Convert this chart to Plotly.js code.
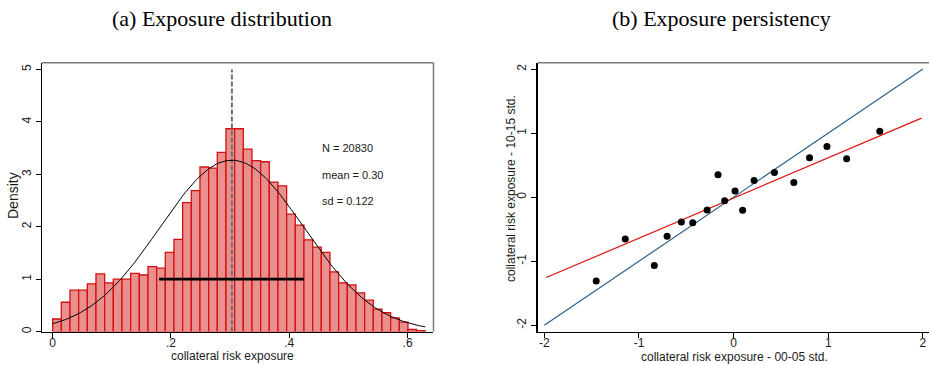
<!DOCTYPE html>
<html>
<head>
<meta charset="utf-8">
<script src="https://cdn.plot.ly/plotly-3.0.1.min.js"></script>
<style>
  html, body { margin: 0; padding: 0; background: #fff; }
  #chart { width: 929px; height: 365px; }
</style>
</head>
<body>
<div id="chart"></div>
<script>
// ---- Panel (a): histogram of collateral risk exposure ----
const binStart = 0;
const binWidth = 0.01465;          // 43 bins over [0, 0.63]
const density = [
  0.24, 0.56, 0.79, 0.79, 0.91, 1.10, 0.93, 1.00, 1.00, 1.11,
  1.08, 1.24, 1.21, 1.51, 1.76, 2.46, 2.69, 3.14, 3.12, 3.42,
  3.87, 3.87, 3.48, 3.26, 3.24, 2.85, 2.78, 2.24, 2.03, 1.75,
  1.61, 1.51, 1.14, 0.93, 0.89, 0.74, 0.60, 0.43, 0.36, 0.26,
  0.18, 0.04, 0.02
];
const obsN = 20830;
const meanExposure = 0.303;
const sdExposure = 0.122;
const rangeLo = 0.18, rangeHi = 0.425;   // horizontal bar drawn at density 1
const xTicksA = [0, 0.2, 0.4, 0.6];
const xTickTextA = ['0', '.2', '.4', '.6'];
const yTicksA = [0, 1, 2, 3, 4, 5];

// ---- Panel (b): binned scatter, 00-05 vs 10-15 (standardised) ----
const exp0005 = [-1.452, -1.145, -0.838, -0.703, -0.552, -0.432, -0.280, -0.165,
                 -0.095, 0.015, 0.095, 0.216, 0.431, 0.636, 0.802, 0.986, 1.194, 1.544];
const exp1015 = [-1.308, -0.652, -1.068, -0.610, -0.390, -0.400, -0.200, 0.348,
                 -0.058, 0.098, -0.203, 0.260, 0.385, 0.229, 0.614, 0.790, 0.598, 1.031];
const diagX = [-2, 2], diagY = [-2, 2];
const fitX = [-1.98, 1.985], fitY = [-1.256, 1.234];
const ticksB = [-2, -1, 0, 1, 2];
const tickTextB = ['-2', '-1', '0', '1', '2'];

// bin centres from bin start and width
const binCentres = density.map((_, i) => binStart + (i + 0.5) * binWidth);

// normal density with the reported mean and sd, over the data support
const curveX = [], curveY = [];
const supportHi = binStart + density.length * binWidth;
for (let k = 0; k <= 200; k++) {
  const x = binStart + (supportHi - binStart) * k / 200;
  const z = (x - meanExposure) / sdExposure;
  curveX.push(x);
  curveY.push(Math.exp(-0.5 * z * z) / (sdExposure * Math.sqrt(2 * Math.PI)));
}

const W = 929, H = 365;
const px = x => x / W;
const py = y => 1 - y / H;

const sans = 'Liberation Sans, Arial, sans-serif';
const serif = 'Liberation Serif, Times New Roman, serif';
const ink = '#1a1a1a';

const traces = [
  {
    type: 'bar', x: binCentres, y: density, width: binWidth,
    marker: { color: '#e98f8e', line: { color: '#d40f0f', width: 1.3 } },
    xaxis: 'x', yaxis: 'y', hoverinfo: 'skip'
  },
  {
    type: 'scatter', mode: 'lines', x: [meanExposure, meanExposure], y: [0, 5],
    line: { color: '#6e6e6e', width: 2, dash: '5px,2px' },
    xaxis: 'x', yaxis: 'y', hoverinfo: 'skip'
  },
  {
    type: 'scatter', mode: 'lines', x: curveX, y: curveY,
    line: { color: '#000', width: 1 },
    xaxis: 'x', yaxis: 'y', hoverinfo: 'skip'
  },
  {
    type: 'scatter', mode: 'lines', x: [rangeLo, rangeHi], y: [1, 1],
    line: { color: '#000', width: 2.7 },
    xaxis: 'x', yaxis: 'y', hoverinfo: 'skip'
  },
  {
    type: 'scatter', mode: 'lines', x: diagX, y: diagY,
    line: { color: '#2e5f8c', width: 1.2 },
    xaxis: 'x2', yaxis: 'y2', hoverinfo: 'skip'
  },
  {
    type: 'scatter', mode: 'lines', x: fitX, y: fitY,
    line: { color: '#e01010', width: 1.2 },
    xaxis: 'x2', yaxis: 'y2', hoverinfo: 'skip'
  },
  {
    type: 'scatter', mode: 'markers', x: exp0005, y: exp1015,
    marker: { color: '#000', size: 7 },
    xaxis: 'x2', yaxis: 'y2', hoverinfo: 'skip'
  }
];

const axisBase = {
  showgrid: false, zeroline: false, showline: true,
  linecolor: '#000', linewidth: 1.5,
  ticks: 'outside', ticklen: 5, tickwidth: 1, tickcolor: '#000',
  tickfont: { family: sans, size: 12, color: ink },
  fixedrange: true
};

const plotTop = 62.7, plotBottom = 331.6;

const layout = {
  width: W, height: H,
  margin: { l: 0, r: 0, t: 0, b: 0 },
  paper_bgcolor: '#fff', plot_bgcolor: '#fff',
  showlegend: false, bargap: 0,
  xaxis: Object.assign({}, axisBase, {
    domain: [px(42), px(433)], anchor: 'y', ticklabelstandoff: -6,
    range: [-0.018, 0.643], tickmode: 'array', tickvals: xTicksA, ticktext: xTickTextA
  }),
  yaxis: Object.assign({}, axisBase, {
    domain: [py(plotBottom), py(plotTop)], anchor: 'x',
    range: [0, 5.13], tickmode: 'array', tickvals: yTicksA, tickangle: -90
  }),
  xaxis2: Object.assign({}, axisBase, {
    domain: [px(537.7), 1], anchor: 'y2', ticklabelstandoff: -6,
    range: [-2.07, 2.064], tickmode: 'array', tickvals: ticksB, ticktext: tickTextB
  }),
  yaxis2: Object.assign({}, axisBase, {
    domain: [py(plotBottom), py(plotTop)], anchor: 'x2',
    range: [-2.1, 2.1], tickmode: 'array', tickvals: ticksB, ticktext: tickTextB, tickangle: -90
  }),
  shapes: [
    // plot-region outline (top and right edges)
    { type: 'line', xref: 'paper', yref: 'paper', x0: px(42), x1: px(433.5),
      y0: py(plotTop), y1: py(plotTop), line: { color: '#7a7a7a', width: 1.5 } },
    { type: 'line', xref: 'paper', yref: 'paper', x0: px(433.5), x1: px(433.5),
      y0: py(plotTop), y1: py(plotBottom), line: { color: '#7a7a7a', width: 1.5 } },
    { type: 'line', xref: 'paper', yref: 'paper', x0: px(537.7), x1: 1,
      y0: py(plotTop), y1: py(plotTop), line: { color: '#7a7a7a', width: 1.5 } }
  ],
  annotations: [
    { text: '(a) Exposure distribution', xref: 'paper', yref: 'paper',
      x: px(222), y: py(18), xanchor: 'center', yanchor: 'middle', showarrow: false,
      font: { family: serif, size: 22, color: '#000' } },
    { text: '(b) Exposure persistency', xref: 'paper', yref: 'paper',
      x: px(721), y: py(18), xanchor: 'center', yanchor: 'middle', showarrow: false,
      font: { family: serif, size: 22, color: '#000' } },
    { text: 'Density', xref: 'paper', yref: 'paper', textangle: -90,
      x: px(13), y: py(196), xanchor: 'center', yanchor: 'middle', showarrow: false,
      font: { family: sans, size: 14, color: ink } },
    { text: 'collateral risk exposure', xref: 'paper', yref: 'paper',
      x: px(232), y: py(356), xanchor: 'center', yanchor: 'middle', showarrow: false,
      font: { family: sans, size: 12, color: ink } },
    { text: 'collateral risk exposure - 00-05 std.', xref: 'paper', yref: 'paper',
      x: px(734), y: py(357), xanchor: 'center', yanchor: 'middle', showarrow: false,
      font: { family: sans, size: 12, color: ink } },
    { text: 'collateral risk exposure - 10-15 std.', xref: 'paper', yref: 'paper', textangle: -90,
      x: px(511), y: py(188), xanchor: 'center', yanchor: 'middle', showarrow: false,
      font: { family: sans, size: 12, color: ink } },
    { text: 'N = ' + obsN, xref: 'paper', yref: 'paper',
      x: px(320), y: py(148), xanchor: 'left', yanchor: 'middle', showarrow: false,
      font: { family: sans, size: 11, color: ink } },
    { text: 'mean = ' + meanExposure.toFixed(2), xref: 'paper', yref: 'paper',
      x: px(320), y: py(174.5), xanchor: 'left', yanchor: 'middle', showarrow: false,
      font: { family: sans, size: 11, color: ink } },
    { text: 'sd = ' + sdExposure.toFixed(3), xref: 'paper', yref: 'paper',
      x: px(320), y: py(201), xanchor: 'left', yanchor: 'middle', showarrow: false,
      font: { family: sans, size: 11, color: ink } }
  ]
};

Plotly.newPlot('chart', traces, layout, { displayModeBar: false, staticPlot: true });
</script>
</body>
</html>
